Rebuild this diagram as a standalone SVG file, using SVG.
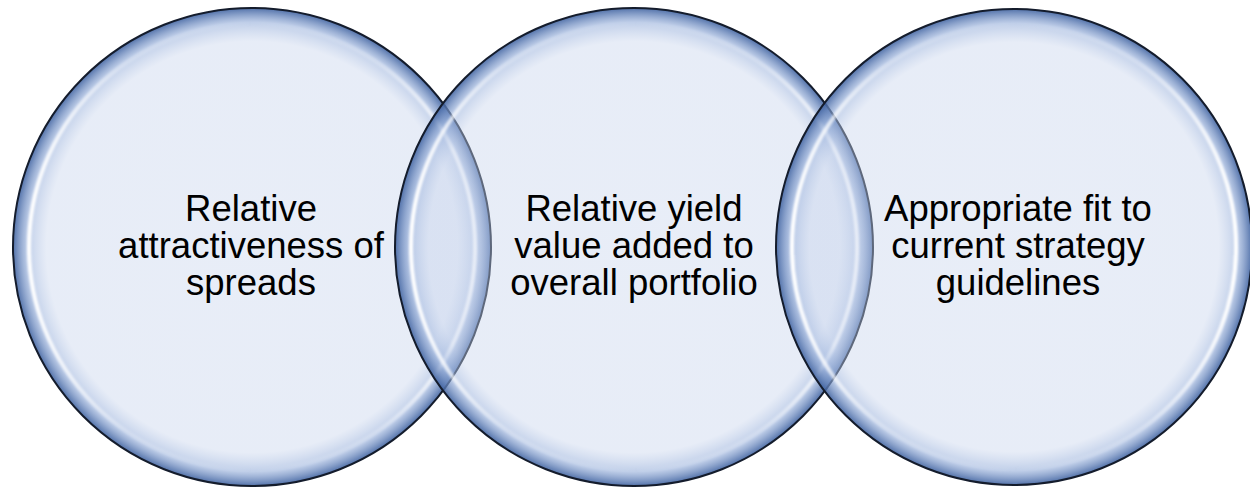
<svg xmlns="http://www.w3.org/2000/svg" width="1250" height="487" viewBox="0 0 1250 487">
  <style>
    .bubble { fill: url(#bubbleFill); stroke: #141C2C; stroke-width: 2; }
    .shine { fill: none; stroke: url(#shineGrad); stroke-width: 4; filter: url(#soft); }
    .label { font-family: "Liberation Sans", Arial, sans-serif; font-size: 36.5px; fill: #000000; text-anchor: middle; }
  </style>
  <defs>
    <radialGradient id="bubbleFill" cx="0.5" cy="0.5" r="0.5">
      <stop offset="0" stop-color="#C6D3EC" stop-opacity="0.4"/>
      <stop offset="0.86" stop-color="#C6D3EC" stop-opacity="0.42"/>
      <stop offset="0.94" stop-color="#95AEDA" stop-opacity="0.6"/>
      <stop offset="1" stop-color="#3F62A0" stop-opacity="0.9"/>
    </radialGradient>
    <linearGradient id="shineGrad" x1="0" y1="0" x2="1" y2="0">
      <stop offset="0" stop-color="#FFFFFF" stop-opacity="1"/>
      <stop offset="0.22" stop-color="#FFFFFF" stop-opacity="0.25"/>
      <stop offset="0.5" stop-color="#FFFFFF" stop-opacity="0"/>
      <stop offset="0.78" stop-color="#FFFFFF" stop-opacity="0.25"/>
      <stop offset="1" stop-color="#FFFFFF" stop-opacity="1"/>
    </linearGradient>
    <filter id="soft" x="-5%" y="-5%" width="110%" height="110%">
      <feGaussianBlur stdDeviation="1.2"/>
    </filter>
  </defs>
  <rect width="1250" height="487" fill="#FFFFFF"/>
  <g id="connectors"/>
  <g id="node-spreads">
    <circle class="bubble" cx="252" cy="247" r="239"/>
    <circle class="shine" cx="252" cy="247" r="223"/>
  </g>
  <g id="node-yield">
    <circle class="bubble" cx="634" cy="247" r="239"/>
    <circle class="shine" cx="634" cy="247" r="223"/>
  </g>
  <g id="node-strategy">
    <circle class="bubble" cx="1014" cy="247" r="238"/>
    <circle class="shine" cx="1014" cy="247" r="222"/>
  </g>
  <g id="labels">
    <text class="label" x="251" y="221">Relative</text>
    <text class="label" x="251" y="258">attractiveness of</text>
    <text class="label" x="251" y="295">spreads</text>
    <text class="label" x="634" y="221">Relative yield</text>
    <text class="label" x="634" y="258">value added to</text>
    <text class="label" x="634" y="295">overall portfolio</text>
    <text class="label" x="1018" y="221">Appropriate fit to</text>
    <text class="label" x="1018" y="258">current strategy</text>
    <text class="label" x="1018" y="295">guidelines</text>
  </g>
</svg>
